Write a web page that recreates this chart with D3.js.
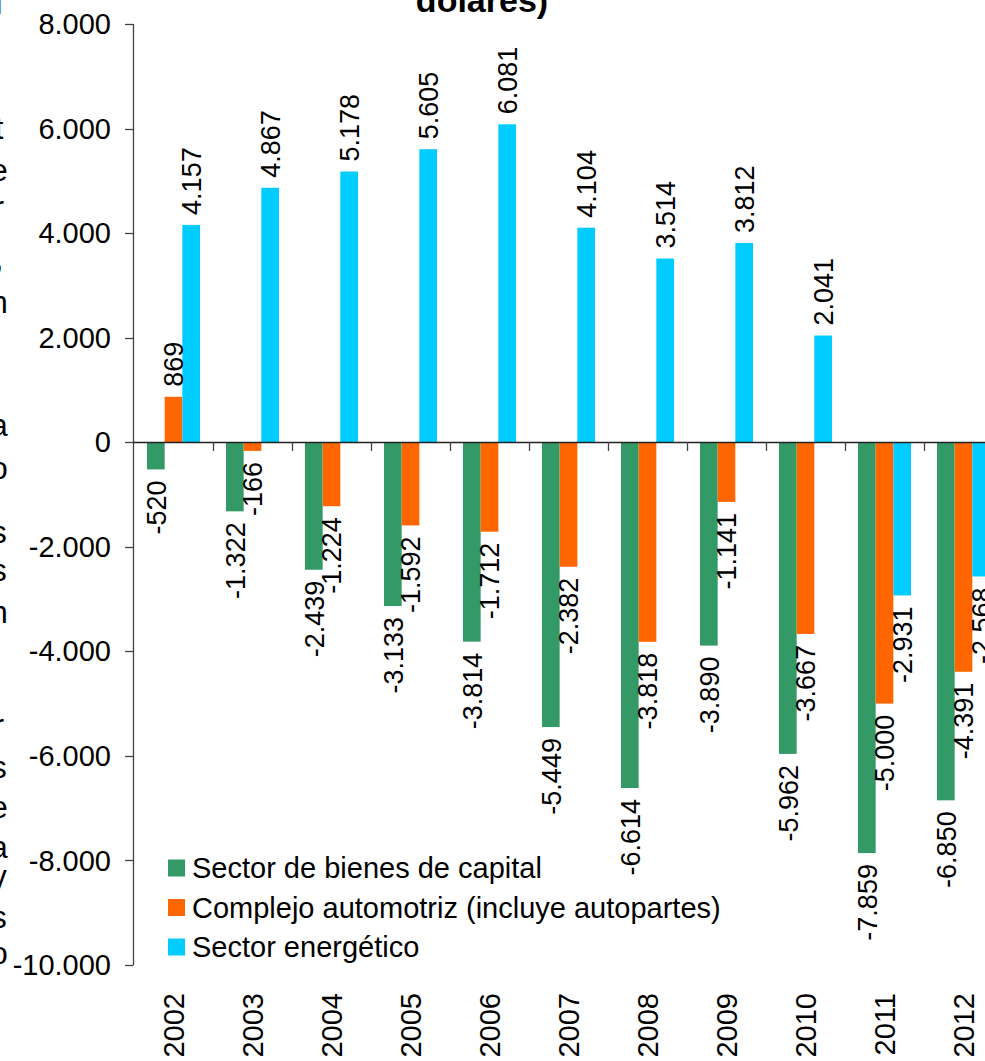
<!DOCTYPE html>
<html>
<head>
<meta charset="utf-8">
<script src="https://cdn.jsdelivr.net/npm/d3@7"></script>
<style>
  html, body { margin: 0; padding: 0; background: #fff; }
  svg { display: block; font-family: "Liberation Sans", Arial, sans-serif; }
</style>
</head>
<body>
<svg id="chart"></svg>
<script>

var width = 985;
var height = 1061;

// data (millones de dolares)
var years = ["2002","2003","2004","2005","2006","2007","2008","2009","2010","2011","2012"];
var seriesNames = ["Sector de bienes de capital", "Complejo automotriz (incluye autopartes)", "Sector energético"];
var capital = [-520, -1322, -2439, -3133, -3814, -5449, -6614, -3890, -5962, -7859, -6850];
var automotriz = [869, -166, -1224, -1592, -1712, -2382, -3818, -1141, -3667, -5000, -4391];
var energetico = [4157, 4867, 5178, 5605, 6081, 4104, 3514, 3812, 2041, -2931, -2568];
var yTicks = [-10000, -8000, -6000, -4000, -2000, 0, 2000, 4000, 6000, 8000];
var colors = ["#339966", "#FF6600", "#00CCFF"];

// fragment of the stacked axis title cut off at the left edge
var leftGlyphs = [["l", 3], ["t", 128], ["e", 170], ["r", 207], [",", 258], ["n", 302],
  ["a", 425], ["o", 468], ["s", 532], ["s", 570], ["n", 612], ["r", 725], ["s", 767],
  ["e", 807], ["a", 847], ["y", 876], ["s", 917], ["o", 953]];

var allSeries = [capital, automotriz, energetico];

var svg = d3.select("#chart")
  .attr("width", width)
  .attr("height", height);

var es = d3.formatLocale({decimal: ",", thousands: ".", grouping: [3], currency: ["$", ""], minus: "-"});
var fmt = es.format(",d");

var x0 = d3.scaleBand()
  .domain(years)
  .range([134, 1003]);

var x1 = d3.scaleBand()
  .domain(d3.range(seriesNames.length))
  .range([0, x0.bandwidth()])
  .paddingOuter(0.735);

var y = d3.scaleLinear()
  .domain([-10000, 8000])
  .range([965, 24]);

// bars
var groups = svg.append("g").selectAll("g")
  .data(years)
  .enter().append("g")
  .attr("transform", function(d) { return "translate(" + x0(d) + ",0)"; });

groups.selectAll("rect")
  .data(function(d, i) {
    return allSeries.map(function(s, k) { return {k: k, v: s[i]}; });
  })
  .enter().append("rect")
  .attr("x", function(d) { return x1(d.k); })
  .attr("width", x1.bandwidth())
  .attr("y", function(d) { return y(Math.max(0, d.v)); })
  .attr("height", function(d) { return Math.abs(y(d.v) - y(0)); })
  .attr("fill", function(d) { return colors[d.k]; });

// y axis
svg.append("line")
  .attr("x1", 133.5).attr("x2", 133.5)
  .attr("y1", y(8000)).attr("y2", y(-10000))
  .attr("stroke", "#444").attr("stroke-width", 1.3);

svg.append("g").selectAll("line")
  .data(yTicks)
  .enter().append("line")
  .attr("x1", 125).attr("x2", 133.5)
  .attr("y1", function(d) { return Math.round(y(d)) + 0.5; })
  .attr("y2", function(d) { return Math.round(y(d)) + 0.5; })
  .attr("stroke", "#444").attr("stroke-width", 1.3);

svg.append("g").selectAll("text")
  .data(yTicks)
  .enter().append("text")
  .attr("x", 111)
  .attr("y", function(d) { return y(d); })
  .attr("dy", "0.35em")
  .attr("text-anchor", "end")
  .attr("font-size", 29)
  .attr("fill", "#000")
  .text(function(d) { return fmt(d); });

// zero line and category ticks
svg.append("line")
  .attr("x1", 133.5).attr("x2", 1003)
  .attr("y1", Math.round(y(0)) + 0.5).attr("y2", Math.round(y(0)) + 0.5)
  .attr("stroke", "#222").attr("stroke-width", 1.5);

svg.append("g").selectAll("line")
  .data(years.slice(1))
  .enter().append("line")
  .attr("x1", function(d) { return Math.round(x0(d)) + 0.5; })
  .attr("x2", function(d) { return Math.round(x0(d)) + 0.5; })
  .attr("y1", Math.round(y(0)))
  .attr("y2", Math.round(y(0)) + 9)
  .attr("stroke", "#444").attr("stroke-width", 1.3);

// year labels
svg.append("g").selectAll("text")
  .data(years)
  .enter().append("text")
  .attr("transform", function(d) {
    return "translate(" + (x0(d) + x0.bandwidth() / 2) + ",993) rotate(-90)";
  })
  .attr("text-anchor", "end")
  .attr("dy", "0.36em")
  .attr("font-size", 29)
  .text(function(d) { return d; });

// value labels
groups.selectAll("text")
  .data(function(d, i) {
    return allSeries.map(function(s, k) { return {k: k, v: s[i]}; });
  })
  .enter().append("text")
  .attr("transform", function(d) {
    var cx = x1(d.k) + x1.bandwidth() / 2;
    var cy = d.v >= 0 ? y(d.v) - 10 : y(d.v) + 11;
    return "translate(" + cx + "," + cy + ") rotate(-90)";
  })
  .attr("text-anchor", function(d) { return d.v >= 0 ? "start" : "end"; })
  .attr("dy", "0.36em")
  .attr("font-size", 27)
  .text(function(d) { return fmt(d.v); });

// legend
var legend = svg.append("g").selectAll("g")
  .data(seriesNames)
  .enter().append("g")
  .attr("transform", function(d, i) { return "translate(168," + (868 + i * 39.5) + ")"; });

legend.append("rect")
  .attr("x", 0).attr("y", -8.5)
  .attr("width", 17).attr("height", 17)
  .attr("fill", function(d, i) { return colors[i]; });

legend.append("text")
  .attr("x", 24)
  .attr("dy", "0.35em")
  .attr("font-size", 29)
  .text(function(d) { return d; });

// title (cut at top)
svg.append("text")
  .attr("x", 482)
  .attr("y", 12)
  .attr("text-anchor", "middle")
  .attr("font-size", 34)
  .attr("font-weight", "bold")
  .text("dólares)");

// left stacked title fragment
svg.append("g").selectAll("text")
  .data(leftGlyphs)
  .enter().append("text")
  .attr("x", -1)
  .attr("y", function(d) { return d[1]; })
  .attr("dy", "0.35em")
  .attr("text-anchor", "middle")
  .attr("font-size", 31)
  .text(function(d) { return d[0]; });

</script>
</body>
</html>
